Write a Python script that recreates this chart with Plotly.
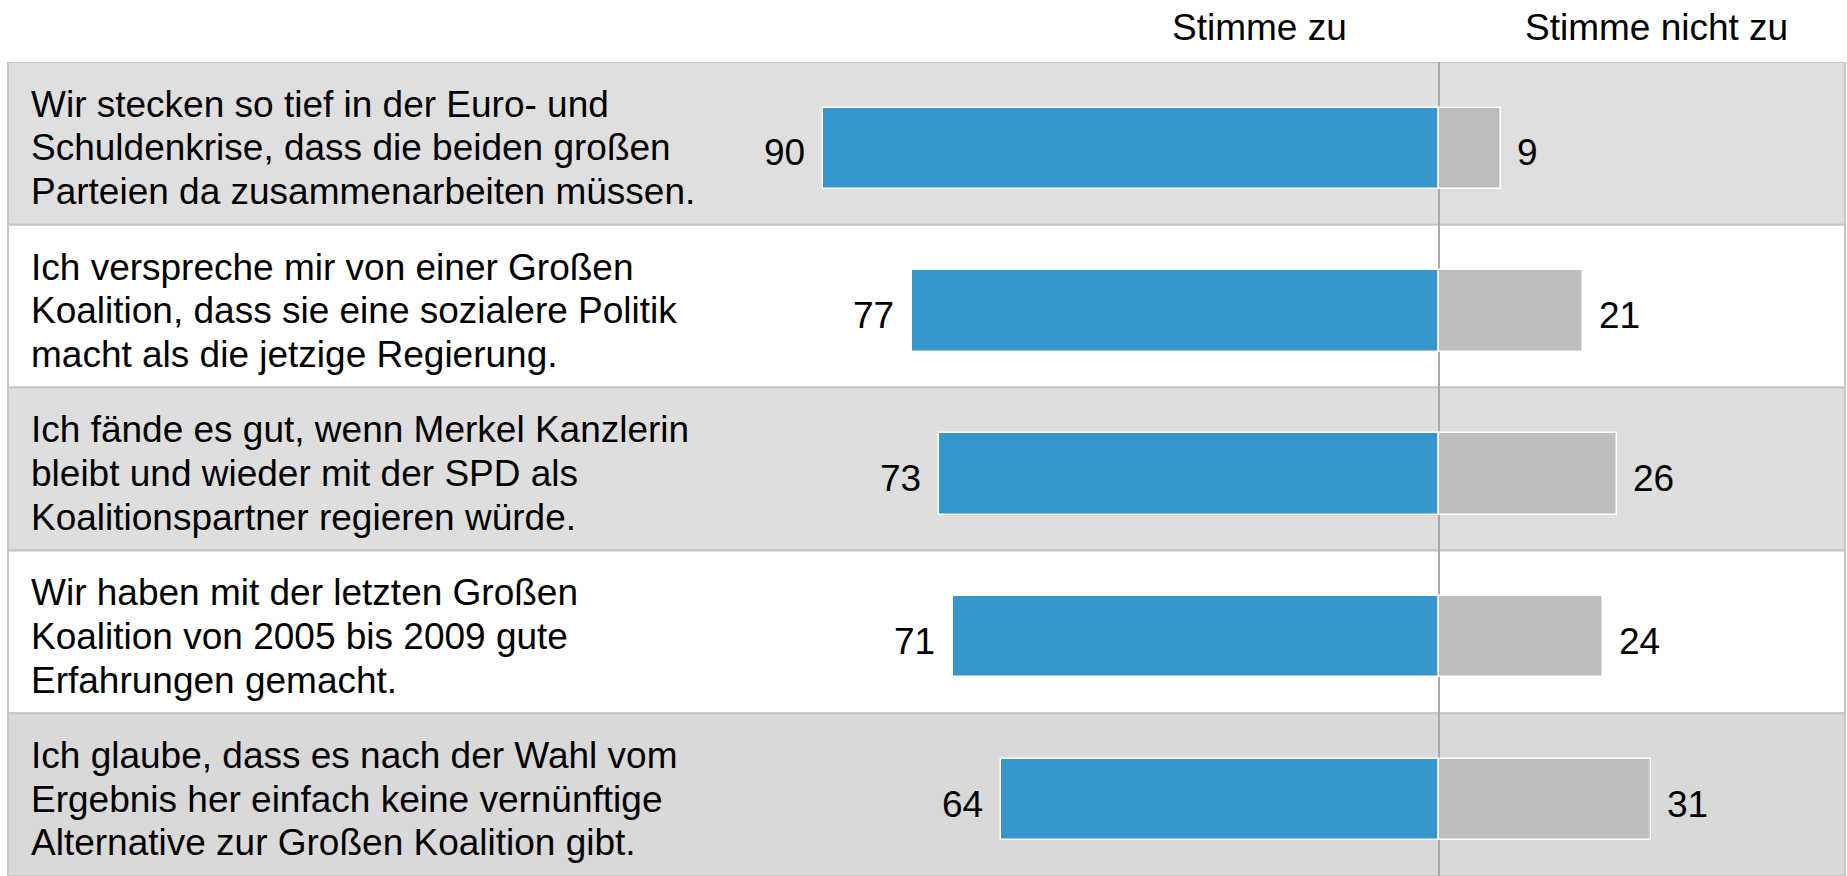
import plotly.graph_objects as go

# ---- data ----
statements = [
    ["Wir stecken so tief in der Euro- und",
     "Schuldenkrise, dass die beiden großen",
     "Parteien da zusammenarbeiten müssen."],
    ["Ich verspreche mir von einer Großen",
     "Koalition, dass sie eine sozialere Politik",
     "macht als die jetzige Regierung."],
    ["Ich fände es gut, wenn Merkel Kanzlerin",
     "bleibt und wieder mit der SPD als",
     "Koalitionspartner regieren würde."],
    ["Wir haben mit der letzten Großen",
     "Koalition von 2005 bis 2009 gute",
     "Erfahrungen gemacht."],
    ["Ich glaube, dass es nach der Wahl vom",
     "Ergebnis her einfach keine vernünftige",
     "Alternative zur Großen Koalition gibt."],
]
agree = [90, 77, 73, 71, 64]
disagree = [9, 21, 26, 24, 31]
header_agree = "Stimme zu"
header_disagree = "Stimme nicht zu"

# ---- style ----
W, H = 1847, 876
TOP = 62
FONT = "Liberation Sans, Arial, sans-serif"
FS = 37
BLUE = "#3597CB"
GREY = "#BEBEBE"
ROW_COLORS = ["#DFDFDF", "#FFFFFF", "#DEDEDE", "#FFFFFF", "#D9D9D9"]
ZERO_PX = 1439
PX_PER_UNIT = 6.85
LINE_SP = 43.7
TEXT_DROP = 4.5
HEADER_C = 27.5

rows = list(range(len(agree)))
xmin = -ZERO_PX / PX_PER_UNIT
xmax = (W - ZERO_PX) / PX_PER_UNIT

fig = go.Figure()
fig.add_trace(go.Bar(
    y=rows, x=[-v for v in agree], orientation="h", width=0.5, offset=-0.22,
    marker=dict(color=BLUE, line=dict(color="white", width=1.5)),
    hoverinfo="skip", showlegend=False))
fig.add_trace(go.Bar(
    y=rows, x=disagree, orientation="h", width=0.5, offset=-0.22,
    marker=dict(color=GREY, line=dict(color="white", width=1.5)),
    hoverinfo="skip", showlegend=False))

shapes = []
for i in rows:
    shapes.append(dict(type="rect", xref="paper", yref="y",
                       x0=8 / W, x1=1845 / W, y0=i - 0.5, y1=i + 0.5,
                       fillcolor=ROW_COLORS[i], line=dict(color="#C6C6C6", width=2),
                       layer="below"))

annotations = []
for i, lines in enumerate(statements):
    n = len(lines)
    for k, line in enumerate(lines):
        annotations.append(dict(
            x=29 / W, xref="paper", xanchor="left", y=i, yref="y", yanchor="middle",
            yshift=-(k - (n - 1) / 2) * LINE_SP - TEXT_DROP, text=line, showarrow=False,
            font=dict(family=FONT, size=FS, color="#000000")))
    annotations.append(dict(
        x=-agree[i], xref="x", xanchor="right", xshift=-16, y=i, yref="y",
        yshift=-9.5, text=str(agree[i]), showarrow=False,
        font=dict(family=FONT, size=FS, color="#000000")))
    annotations.append(dict(
        x=disagree[i], xref="x", xanchor="left", xshift=14, y=i, yref="y",
        yshift=-9.5, text=str(disagree[i]), showarrow=False,
        font=dict(family=FONT, size=FS, color="#000000")))

hy = 1 + (TOP - HEADER_C) / (H - TOP)
annotations.append(dict(x=1259 / W, xref="paper", y=hy, yref="paper",
                        xanchor="center", yanchor="middle", text=header_agree,
                        showarrow=False, font=dict(family=FONT, size=FS, color="#000000")))
annotations.append(dict(x=1656 / W, xref="paper", y=hy, yref="paper",
                        xanchor="center", yanchor="middle", text=header_disagree,
                        showarrow=False, font=dict(family=FONT, size=FS, color="#000000")))

fig.update_layout(
    width=W, height=H,
    margin=dict(l=0, r=0, t=TOP, b=0, pad=0),
    paper_bgcolor="white", plot_bgcolor="white",
    barmode="relative", bargap=0,
    showlegend=False,
    shapes=shapes, annotations=annotations,
    xaxis=dict(range=[xmin, xmax], showticklabels=False, showgrid=False,
               zeroline=True, zerolinecolor="#A8A8A8", zerolinewidth=1.5,
               fixedrange=True),
    yaxis=dict(range=[len(agree) - 0.5, -0.5], showticklabels=False,
               showgrid=False, zeroline=False, fixedrange=True),
)

fig.write_html("out.html", config={"displayModeBar": False},
               post_script="document.body.style.margin='0';document.body.style.overflow='hidden';")
